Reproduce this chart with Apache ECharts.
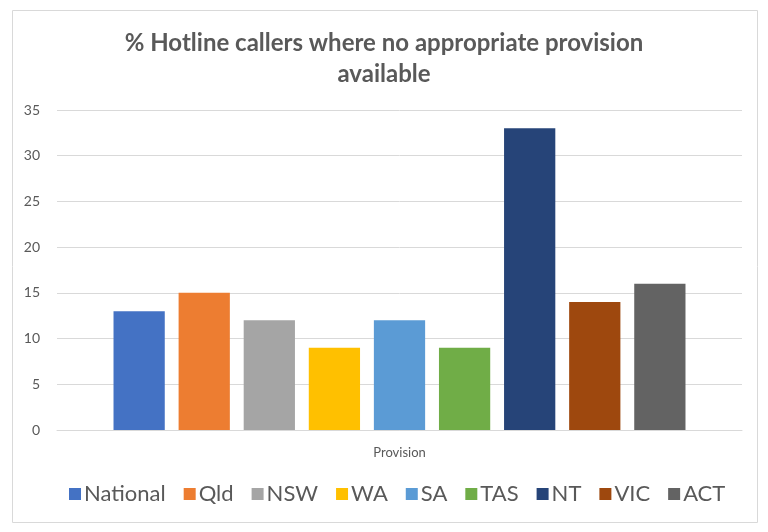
<!DOCTYPE html>
<html><head><meta charset="utf-8">
<script src="https://cdn.jsdelivr.net/npm/echarts@6/dist/echarts.min.js"></script>
<style>html,body{margin:0;padding:0;background:#fff}#c{width:768px;height:532px}</style>
</head><body><div id="c"></div>
<script>
const categories = ['Provision'];
const seriesNames = ['National','Qld','NSW','WA','SA','TAS','NT','VIC','ACT'];
const seriesValues = [13,15,12,9,12,9,33,14,16];
const colors = ['#4472C4','#ED7D31','#A5A5A5','#FFC000','#5B9BD5','#70AD47','#264478','#9E480E','#636363'];
const yTicks = [0,5,10,15,20,25,30,35];

const chart = echarts.init(document.getElementById('c'));
chart.setOption({
  animation:false,
  color: colors,
  title:{text:'% Hotline callers where no appropriate provision\navailable',left:'center',top:23,
    textStyle:{fontFamily:'Lato',fontWeight:'bold',fontSize:24,color:'#595959',lineHeight:31}},
  graphic:[{type:'rect',shape:{x:12.5,y:10.5,width:745,height:512},style:{fill:'none',stroke:'#d9d9d9',lineWidth:1},silent:true}],
  grid:{left:57,right:26,top:110,bottom:102},
  legend:{bottom:22,left:64,itemWidth:12,itemHeight:12,itemGap:18,icon:'rect',
    textStyle:{fontFamily:'Lato',fontSize:22,color:'#595959',padding:[0,0,0,-2]},data:seriesNames},
  xAxis:{type:'category',data:categories,axisTick:{show:false},axisLine:{lineStyle:{color:'#d9d9d9'}},
    axisLabel:{fontFamily:'Lato',fontSize:13,color:'#595959',margin:16}},
  yAxis:{type:'value',min:yTicks[0],max:yTicks[yTicks.length-1],interval:5,
    axisLine:{show:false},axisTick:{show:false},
    splitLine:{lineStyle:{color:'#d9d9d9'}},
    axisLabel:{fontFamily:'Lato',fontSize:14,color:'#595959',margin:17}},
  series: seriesNames.map((n,i)=>({name:n,type:'bar',data:[seriesValues[i]],
    barGap:'27%',barCategoryGap:'16.5%'}))
});
</script></body></html>
